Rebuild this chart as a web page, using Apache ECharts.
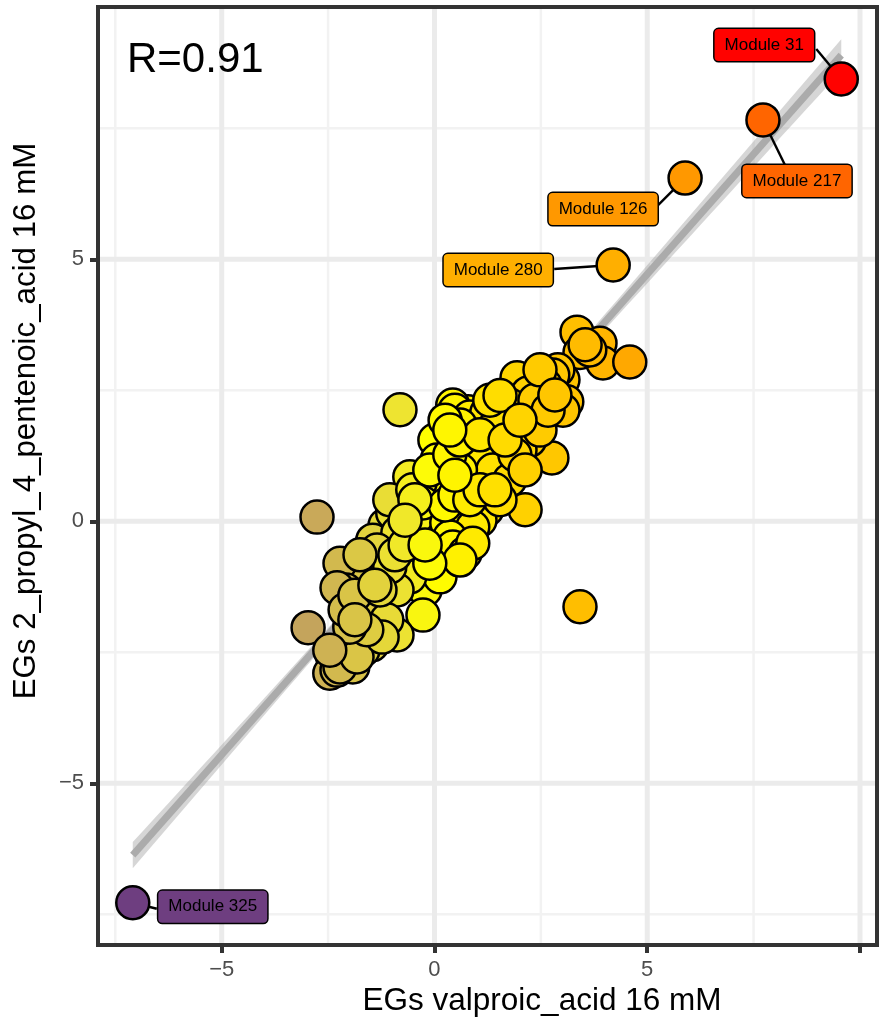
<!DOCTYPE html>
<html>
<head>
<meta charset="utf-8">
<script src="https://cdn.jsdelivr.net/npm/echarts@6/dist/echarts.min.js"></script>
<style>
  html, body { margin: 0; padding: 0; background: #ffffff; }
  #chart { width: 885px; height: 1024px; }
</style>
</head>
<body>
<div id="chart"></div>
<script>
// Module eigengene scores: x = valproic acid 16 mM, y = 2-propyl-4-pentenoic acid 16 mM
const valproic = [
  -0.81, -2.76, -2.97, 3.42, 3.35, 3.89, 3.96, 4.59, 3.42, 3.65, 3.54,
  3.02, 3.11, 2.90, 3.02, 2.78, 2.60, 2.55, 2.01, 1.94, 2.20, 2.31, 2.31, 2.76,
  1.42, 1.59, 1.77, 1.84, 1.26, 0.72, 1.73, 0.79, 0.43, 0.48, 0.83, 0.90, 1.00, 1.23, 1.47, 1.54, 1.00,
  0.13, 0.01, 0.06, 1.02, 1.84, 1.37, 1.77, 2.24, 2.01, 2.48, 2.13, 1.23, 0.72,
  0.61, 0.25, -0.11, -0.69, -1.16, -1.63, -0.93, -0.22, 0.25, 1.07, 1.54, 1.89, 1.30, 2.36, 2.67,
  0.01, -0.41, -0.98, -1.45, -0.34, -0.58, -1.05, -0.51, -0.27, 0.29, 0.90, 0.36, -0.86, -1.35, -0.41,
  0.06, 0.43, 0.13, -0.58, -1.12, -2.15, -1.82, 0.72, 0.90, 0.60, -0.11, -1.21, -0.88, -1.05, -2.22,
  -2.08, -1.75, -2.15, -1.47, 0.60, 0.25,
  -1.56, -2.29, -0.27, -0.88, -1.12, -1.99, -2.39, -2.46, -2.29, -1.68, -1.92, -2.22, -1.82, -1.23, -1.59, -1.99, -2.46,
  -2.10, -1.87, -1.28, -0.93, -0.69, -0.22, 0.25, 0.48, -0.11, 0.36, 0.60, 1.07, 1.66, 1.54,
  2.48, 2.83, -0.46, -0.69, -1.75, -1.40, -1.87, 0.83, 1.07, 1.42, 0.48, 2.01, 2.13, 0.36
];
const propylPentenoic = [
  2.13, 0.08, -2.03, -1.63, 3.61, 3.40, 3.02, 3.04, 3.22, 3.27, 3.37,
  2.70, 2.28, 2.89, 2.12, 2.79, 2.60, 2.51, 2.47, 2.74, 2.45, 1.99, 1.61, 1.21,
  1.84, 2.31, 2.22, 1.88, 1.32, 1.11, 0.92, 2.09, 2.22, 2.12, 1.99, 1.80, 1.80, 2.07, 1.88, 1.42, 1.40,
  1.61, 1.55, 1.17, 1.23, 0.98, 0.98, 0.79, 1.55, 1.36, 1.74, 0.22, 0.22, 0.69,
  0.98, 0.79, 0.50, 0.31, -0.07, -0.74, -1.12, -1.31, -0.74, 0.02, 0.41, 1.27, 2.31, 2.31, 2.12,
  0.02, 0.08, 0.16, -0.36, 0.73, 0.85, 0.41, 0.60, 0.35, -0.03, -0.11, -0.30, -0.22, -0.55, -0.74,
  -0.87, -0.49, -1.06, -1.06, -0.93, -0.83, -0.87, -0.61, -0.42, -0.74, -0.80, -0.99, -1.31, -0.87, -0.80,
  -1.31, -1.79, -2.42, -2.36, 1.84, 1.93,
  -1.50, -1.27, -1.79, -2.17, -1.88, -2.23, -2.60, -2.90, -2.84, -2.46, -2.78, -2.78, -2.59, -2.21, -2.07, -2.02, -2.46,
  -1.69, -1.41, -1.31, -0.64, -0.45, -0.45, 0.31, 0.50, 0.98, 1.27, 1.55, 1.65, 1.55, 2.40,
  2.89, 2.41, 0.41, 0.02, -0.64, -1.22, -1.88, 0.41, 0.60, 0.60, 0.88, 1.93, 0.98, 1.74
];

// Highlighted modules
const moduleNames = ['Module 31', 'Module 217', 'Module 126', 'Module 280', 'Module 325'];
const moduleX = [9.56, 7.72, 5.89, 4.20, -7.09];
const moduleY = [8.44, 7.66, 6.55, 4.89, -7.28];

// Linear fit (lm) and its standard errors
const fitIntercept = 0.13;
const fitSlope = 0.917;
const fitMeanX = 0.3;
const fitSEMean = 0.045;
const fitSESlope = 0.016;

const corrText = 'R=0.91';
const xTitle = 'EGs valproic_acid 16 mM';
const yTitle = 'EGs 2_propyl_4_pentenoic_acid 16 mM';

const xTicks = [-5, 0, 5, 10];
const xTickLabels = ['\u22125', '0', '5', ''];
const yTicks = [-5, 0, 5];
const yTickLabels = ['\u22125', '0', '5'];
const xMinorGrid = [-7.5, -2.5, 2.5, 7.5];
const yMinorGrid = [-7.5, -2.5, 2.5, 7.5];

// ---- styling helpers ----
const FONT = '"Liberation Sans", Arial, Helvetica, sans-serif';

// fill gradient along the valproic-acid score
const fillStops = [
  [-7.1, [110, 62, 128]],
  [-2.8, [200, 168, 90]],
  [-2.0, [214, 192, 74]],
  [-0.8, [238, 228, 48]],
  [0.0, [255, 255, 0]],
  [0.8, [255, 236, 0]],
  [2.3, [255, 206, 0]],
  [3.4, [255, 190, 0]],
  [4.6, [255, 168, 0]],
  [5.9, [255, 152, 0]],
  [7.7, [255, 102, 0]],
  [9.6, [255, 0, 0]]
];
function rgb(c) { return 'rgb(' + c.map(v => Math.round(v)).join(',') + ')'; }
function fillFor(x) {
  if (x <= fillStops[0][0]) return rgb(fillStops[0][1]);
  for (let i = 1; i < fillStops.length; i++) {
    const [x1, c1] = fillStops[i];
    if (x <= x1) {
      const [x0, c0] = fillStops[i - 1];
      const t = (x - x0) / (x1 - x0);
      return rgb(c0.map((v, k) => v + (c1[k] - v) * t));
    }
  }
  return rgb(fillStops[fillStops.length - 1][1]);
}

// label box placement relative to its point (pixels): box centre and connector end
const labelLayout = [
  { dx: -77, dy: -34, ax: -25, ay: -30 },
  { dx: 34, dy: 61, ax: 22, ay: 45 },
  { dx: -82, dy: 31, ax: -27, ay: 27 },
  { dx: -115, dy: 5, ax: -59, ay: 4 },
  { dx: 80, dy: 4, ax: 24, ay: 6 }
];

// ---- fitted line with 95% confidence band over the observed x range ----
const allX = valproic.concat(moduleX);
const xLo = Math.min(...allX), xHi = Math.max(...allX);
const tCrit = 1.97;
const bandUpper = [], bandLower = [];
for (let k = 0; k <= 60; k++) {
  const x = xLo + (xHi - xLo) * k / 60;
  const yh = fitIntercept + fitSlope * x;
  const se = Math.sqrt(fitSEMean ** 2 + (fitSESlope * (x - fitMeanX)) ** 2);
  bandUpper.push([x, yh + tCrit * se]);
  bandLower.push([x, yh - tCrit * se]);
}
const fitLine = [[xLo, fitIntercept + fitSlope * xLo], [xHi, fitIntercept + fitSlope * xHi]];

function gridLines(values, vertical, width, color) {
  return {
    type: 'custom', silent: true, z: 0, animation: false,
    data: values.map(v => vertical ? [v, 0] : [0, v]),
    encode: { x: 0, y: 1 },
    renderItem(params, api) {
      const cs = params.coordSys;
      const p = api.coord([api.value(0), api.value(1)]);
      const shape = vertical
        ? { x1: p[0], y1: cs.y, x2: p[0], y2: cs.y + cs.height }
        : { x1: cs.x, y1: p[1], x2: cs.x + cs.width, y2: p[1] };
      return { type: 'line', shape, style: { stroke: color, lineWidth: width } };
    }
  };
}

const chart = echarts.init(document.getElementById('chart'), null, { renderer: 'canvas' });
chart.setOption({
  animation: false,
  backgroundColor: '#ffffff',
  grid: { left: 98, right: 8, top: 7, bottom: 79, show: false },
  xAxis: {
    type: 'value', min: -7.907, max: 10.40,
    axisLine: { show: false, onZero: false }, splitLine: { show: false },
    axisTick: { show: true, customValues: xTicks, length: 8, lineStyle: { color: '#333333', width: 4 } },
    axisLabel: {
      customValues: xTicks, margin: 14, fontSize: 22, color: '#4d4d4d', fontFamily: FONT,
      formatter: v => xTickLabels[xTicks.indexOf(v)] ?? ''
    }
  },
  yAxis: {
    type: 'value', min: -8.086, max: 9.815,
    axisLine: { show: false, onZero: false }, splitLine: { show: false },
    axisTick: { show: true, customValues: yTicks, length: 8, lineStyle: { color: '#333333', width: 4 } },
    axisLabel: {
      customValues: yTicks, margin: 14, fontSize: 22, color: '#4d4d4d', fontFamily: FONT,
      formatter: v => yTickLabels[yTicks.indexOf(v)] ?? ''
    }
  },
  graphic: [
    { type: 'rect', silent: true, z: 100, shape: { x: 98, y: 7, width: 779, height: 938 },
      style: { fill: null, stroke: '#333333', lineWidth: 4 } },
    { type: 'text', silent: true, z: 100, x: 127, y: 60,
      style: { text: corrText, fontSize: 42, fontFamily: FONT, fill: '#000', align: 'left', verticalAlign: 'middle' } },
    { type: 'text', silent: true, z: 100, x: 542, y: 1001,
      style: { text: xTitle, fontSize: 31.5, fontFamily: FONT, fill: '#000', align: 'center', verticalAlign: 'middle' } },
    { type: 'text', silent: true, z: 100, x: 26, y: 421, rotation: Math.PI / 2,
      style: { text: yTitle, fontSize: 31.3, fontFamily: FONT, fill: '#000', align: 'center', verticalAlign: 'middle' } }
  ],
  series: [
    gridLines(xMinorGrid, true, 2.5, '#f2f2f2'),
    gridLines(yMinorGrid, false, 2.5, '#f2f2f2'),
    gridLines(xTicks, true, 5, '#ebebeb'),
    gridLines(yTicks, false, 5, '#ebebeb'),
    {
      // confidence band of the linear fit
      type: 'custom', silent: true, z: 1,
      data: [[0, 0]], encode: { x: 0, y: 1 },
      renderItem(params, api) {
        const pts = bandUpper.map(p => api.coord(p))
          .concat(bandLower.slice().reverse().map(p => api.coord(p)));
        return { type: 'polygon', shape: { points: pts }, style: { fill: 'rgba(153,153,153,0.4)' } };
      }
    },
    {
      type: 'line', silent: true, z: 2, data: fitLine, symbol: 'none',
      lineStyle: { color: '#ababab', width: 7, cap: 'butt' }
    },
    {
      // connectors and label boxes for highlighted modules
      type: 'custom', silent: true, z: 2.5,
      data: moduleX.map((x, i) => [x, moduleY[i]]), encode: { x: 0, y: 1 },
      renderItem(params, api) {
        const i = params.dataIndex;
        const p = api.coord([api.value(0), api.value(1)]);
        const L = labelLayout[i];
        return {
          type: 'group',
          children: [
            { type: 'line', shape: { x1: p[0], y1: p[1], x2: p[0] + L.ax, y2: p[1] + L.ay },
              style: { stroke: '#000', lineWidth: 2.4 } },
            { type: 'text', x: p[0] + L.dx, y: p[1] + L.dy,
              style: {
                text: moduleNames[i], fill: '#000', fontSize: 17, fontFamily: FONT, lineHeight: 18,
                align: 'center', verticalAlign: 'middle',
                backgroundColor: fillFor(api.value(0)), borderColor: '#000', borderWidth: 1.5,
                borderRadius: 4, padding: [7, 10]
              } }
          ]
        };
      }
    },
    {
      type: 'scatter', silent: true, z: 3,
      data: valproic.map((x, i) => [x, propylPentenoic[i]]),
      symbol: 'circle', symbolSize: 33,
      itemStyle: { color: p => fillFor(p.value[0]), borderColor: '#000', borderWidth: 2.5, opacity: 1 }
    },
    {
      type: 'scatter', silent: true, z: 3,
      data: moduleX.map((x, i) => ({ name: moduleNames[i], value: [x, moduleY[i]] })),
      symbol: 'circle', symbolSize: 33,
      itemStyle: { color: p => fillFor(p.value[0]), borderColor: '#000', borderWidth: 2.5, opacity: 1 }
    }
  ]
});
</script>
</body>
</html>
